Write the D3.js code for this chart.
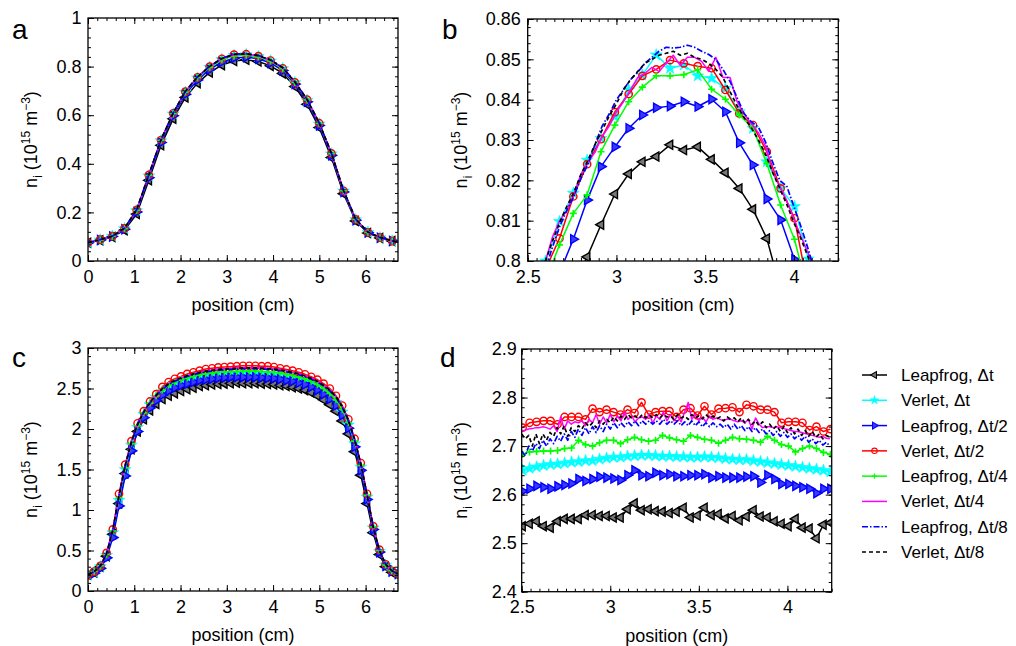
<!DOCTYPE html>
<html><head><meta charset="utf-8">
<script src="https://cdn.jsdelivr.net/npm/d3@7"></script>
<style>
body{margin:0;background:#fff}
svg text{font-family:"Liberation Sans",Arial,Helvetica,sans-serif;fill:#000}
</style>
</head><body><svg id="chart" width="1016" height="646"></svg>
<script>
// ---------- series meta ----------
const seriesNames = ["Leapfrog, \u0394t","Verlet, \u0394t","Leapfrog, \u0394t/2","Verlet, \u0394t/2","Leapfrog, \u0394t/4","Verlet, \u0394t/4","Leapfrog, \u0394t/8","Verlet, \u0394t/8"];
const seriesColors = ["#000000","#00ffff","#0000ff","#ff0000","#00ff00","#ff00ff","#0000ff","#000000"];
const seriesDash = [null,null,null,null,null,null,"6,2,1.5,2","4,3"];
const seriesMarkers = ["triL","star","triR","circle","plus",null,null,null];

// ---------- panel a ----------
const xA = [0,0.263,0.526,0.789,1.052,1.315,1.578,1.841,2.104,2.367,2.63,2.893,3.156,3.419,3.682,3.945,4.208,4.471,4.734,4.997,5.26,5.523,5.786,6.049,6.312,6.575,6.7];
const aLF1 = [0.075,0.085,0.099,0.127,0.193,0.332,0.476,0.585,0.673,0.732,0.776,0.806,0.823,0.828,0.821,0.803,0.772,0.718,0.645,0.549,0.426,0.277,0.165,0.115,0.095,0.082,0.078];
const aV1  = [0.075,0.087,0.102,0.133,0.207,0.350,0.495,0.605,0.694,0.753,0.797,0.829,0.846,0.849,0.841,0.823,0.791,0.734,0.661,0.564,0.441,0.288,0.170,0.118,0.096,0.082,0.078];
const aLF2 = [0.075,0.086,0.101,0.131,0.202,0.343,0.488,0.598,0.686,0.745,0.788,0.819,0.835,0.839,0.832,0.815,0.784,0.728,0.655,0.558,0.435,0.284,0.168,0.117,0.096,0.082,0.078];
const aV2  = [0.075,0.088,0.102,0.134,0.210,0.354,0.498,0.608,0.697,0.756,0.800,0.832,0.849,0.851,0.843,0.825,0.793,0.735,0.664,0.567,0.443,0.289,0.171,0.118,0.096,0.082,0.078];
const aLF4 = [0.075,0.087,0.102,0.134,0.209,0.352,0.497,0.606,0.695,0.754,0.797,0.828,0.844,0.847,0.840,0.823,0.791,0.735,0.663,0.566,0.442,0.289,0.171,0.118,0.096,0.082,0.078];
const aV4  = [0.075,0.088,0.102,0.134,0.210,0.354,0.498,0.608,0.697,0.756,0.800,0.832,0.849,0.852,0.844,0.826,0.794,0.736,0.664,0.567,0.443,0.289,0.171,0.118,0.096,0.082,0.078];
const aLF8 = [0.075,0.088,0.102,0.135,0.211,0.355,0.499,0.609,0.698,0.758,0.802,0.834,0.851,0.853,0.846,0.828,0.796,0.738,0.666,0.568,0.444,0.290,0.172,0.119,0.097,0.083,0.078];
const aV8  = [0.075,0.088,0.102,0.135,0.211,0.355,0.499,0.609,0.698,0.757,0.801,0.833,0.850,0.852,0.845,0.827,0.795,0.737,0.665,0.568,0.444,0.290,0.172,0.119,0.097,0.083,0.078];

// ---------- panel b ----------
const xB = [2.523,2.601,2.679,2.757,2.835,2.913,2.991,3.069,3.146,3.224,3.302,3.380,3.458,3.536,3.614,3.692,3.769,3.847,3.925,4.003,4.081,4.159,4.237];
const bLF1 = [0.765,0.775,0.785,0.794,0.801,0.809,0.8166,0.8216,0.8246,0.8259,0.8288,0.8275,0.8283,0.8252,0.8219,0.8180,0.8128,0.8056,0.793,0.782,0.772,0.760,0.750];
const bV1  = [0.790,0.800,0.8098,0.8168,0.825,0.8304,0.8358,0.8424,0.8461,0.8511,0.8478,0.8486,0.8459,0.8453,0.8428,0.8370,0.8329,0.8246,0.8180,0.8135,0.8005,0.790,0.780];
const bLF2 = [0.780,0.790,0.797,0.8054,0.8151,0.8234,0.8283,0.8329,0.8362,0.8380,0.8384,0.8395,0.8383,0.8401,0.8370,0.8293,0.8238,0.8154,0.8102,0.8004,0.790,0.780,0.770];
const bV2  = [0.788,0.798,0.8056,0.8160,0.824,0.8302,0.8369,0.8414,0.8459,0.8475,0.8498,0.8490,0.8483,0.8478,0.8424,0.8366,0.8337,0.8271,0.8180,0.8106,0.793,0.785,0.775];
const bLF4 = [0.785,0.795,0.804,0.8118,0.8164,0.8271,0.8337,0.8395,0.8431,0.8459,0.8459,0.8462,0.8474,0.8426,0.8401,0.8362,0.8329,0.8242,0.8139,0.8054,0.792,0.780,0.770];
const xBfine = [2.56,2.60,2.64,2.68,2.72,2.76,2.80,2.84,2.88,2.92,2.96,3.00,3.04,3.08,3.12,3.16,3.20,3.24,3.28,3.32,3.36,3.40,3.44,3.48,3.52,3.56,3.60,3.64,3.68,3.72,3.76,3.80,3.84,3.88,3.92,3.96,4.00,4.04,4.08,4.12];
const bV4  = [0.795,0.800,0.806,0.810,0.8125,0.8165,0.8215,0.8245,0.827,0.831,0.8335,0.837,0.8395,0.8425,0.8455,0.8465,0.8480,0.8470,0.8490,0.8510,0.8485,0.8505,0.8505,0.8495,0.8470,0.8505,0.8455,0.8455,0.8395,0.8365,0.8340,0.8318,0.8285,0.8220,0.8185,0.8150,0.8105,0.8060,0.8020,0.797];
const bLF8 = [0.793,0.798,0.8035,0.8085,0.8125,0.816,0.8205,0.824,0.829,0.8335,0.8365,0.840,0.8425,0.845,0.8468,0.849,0.8505,0.852,0.853,0.8528,0.853,0.8535,0.853,0.852,0.8512,0.850,0.8475,0.8445,0.8405,0.8365,0.8345,0.8332,0.8295,0.8245,0.820,0.8185,0.8135,0.8085,0.803,0.797];
const bV8  = [0.795,0.800,0.805,0.8095,0.8135,0.817,0.8215,0.825,0.829,0.8325,0.836,0.839,0.8425,0.845,0.847,0.849,0.850,0.851,0.8515,0.852,0.851,0.8515,0.8505,0.850,0.849,0.8475,0.8455,0.842,0.8385,0.8355,0.833,0.830,0.8265,0.822,0.818,0.814,0.8095,0.8055,0.801,0.796];

// ---------- panel c ----------
const xCstep = 0.134, xCcount = 51;
const cLF1 = [0.20,0.23,0.30,0.43,0.70,1.08,1.45,1.75,1.97,2.12,2.23,2.31,2.37,2.41,2.44,2.47,2.49,2.51,2.53,2.54,2.55,2.555,2.56,2.565,2.57,2.565,2.565,2.565,2.56,2.555,2.55,2.54,2.53,2.515,2.50,2.48,2.45,2.41,2.36,2.30,2.22,2.10,1.94,1.72,1.43,1.08,0.72,0.45,0.30,0.23,0.20];
const cV1  = [0.20,0.23,0.30,0.44,0.72,1.12,1.50,1.80,2.02,2.18,2.30,2.39,2.46,2.51,2.55,2.58,2.60,2.62,2.64,2.65,2.66,2.67,2.675,2.68,2.68,2.68,2.68,2.68,2.675,2.67,2.665,2.655,2.64,2.63,2.61,2.59,2.56,2.52,2.47,2.41,2.33,2.21,2.05,1.82,1.53,1.16,0.78,0.49,0.32,0.24,0.21];
const cLF2 = [0.19,0.22,0.28,0.41,0.66,1.05,1.42,1.73,1.97,2.14,2.26,2.35,2.42,2.47,2.51,2.54,2.56,2.58,2.60,2.61,2.62,2.63,2.635,2.64,2.64,2.64,2.64,2.64,2.635,2.63,2.625,2.615,2.60,2.59,2.57,2.55,2.52,2.48,2.43,2.37,2.29,2.17,2.01,1.78,1.49,1.13,0.76,0.48,0.31,0.24,0.21];
const cV2  = [0.20,0.24,0.31,0.47,0.76,1.20,1.56,1.85,2.07,2.22,2.34,2.43,2.52,2.58,2.62,2.65,2.68,2.70,2.72,2.74,2.75,2.76,2.765,2.77,2.775,2.78,2.78,2.78,2.775,2.775,2.765,2.75,2.735,2.72,2.70,2.675,2.645,2.61,2.56,2.50,2.41,2.29,2.12,1.88,1.58,1.20,0.80,0.51,0.33,0.25,0.21];
const cLF4 = [0.20,0.24,0.31,0.45,0.74,1.15,1.52,1.82,2.04,2.20,2.32,2.41,2.48,2.54,2.58,2.61,2.63,2.65,2.67,2.68,2.69,2.70,2.705,2.71,2.71,2.715,2.715,2.715,2.71,2.705,2.70,2.69,2.675,2.66,2.64,2.62,2.59,2.55,2.50,2.44,2.36,2.24,2.08,1.85,1.55,1.18,0.79,0.50,0.32,0.25,0.21];
const cV4  = [0.20,0.24,0.31,0.46,0.75,1.18,1.55,1.84,2.06,2.21,2.33,2.42,2.50,2.56,2.60,2.63,2.66,2.68,2.70,2.72,2.73,2.74,2.745,2.75,2.755,2.76,2.755,2.76,2.755,2.75,2.745,2.735,2.72,2.70,2.685,2.66,2.63,2.595,2.545,2.485,2.40,2.28,2.11,1.87,1.57,1.19,0.79,0.50,0.33,0.25,0.21];
const cLF8 = [0.20,0.24,0.31,0.46,0.75,1.17,1.54,1.83,2.05,2.21,2.32,2.41,2.49,2.55,2.59,2.62,2.65,2.67,2.69,2.705,2.715,2.725,2.73,2.735,2.74,2.745,2.745,2.745,2.74,2.735,2.73,2.72,2.705,2.69,2.67,2.645,2.615,2.58,2.53,2.47,2.39,2.27,2.10,1.86,1.56,1.19,0.79,0.50,0.33,0.25,0.21];
const cV8  = [0.20,0.24,0.31,0.46,0.75,1.18,1.55,1.84,2.06,2.21,2.33,2.42,2.50,2.56,2.60,2.63,2.66,2.68,2.70,2.715,2.725,2.735,2.74,2.745,2.75,2.755,2.755,2.755,2.75,2.745,2.74,2.73,2.715,2.70,2.68,2.655,2.625,2.59,2.54,2.48,2.40,2.28,2.11,1.87,1.57,1.19,0.79,0.50,0.33,0.25,0.21];

// ---------- panel d ----------
const xDstart = 2.505, xDstep = 0.0395, xDcount = 45;
const dLF1 = [2.535,2.540,2.545,2.535,2.532,2.545,2.550,2.550,2.550,2.558,2.558,2.556,2.556,2.553,2.553,2.570,2.582,2.568,2.570,2.566,2.565,2.562,2.565,2.573,2.553,2.557,2.573,2.558,2.560,2.551,2.556,2.547,2.555,2.568,2.555,2.553,2.545,2.540,2.535,2.550,2.532,2.530,2.510,2.538,2.542];
const dLF2 = [2.607,2.612,2.618,2.615,2.612,2.617,2.620,2.623,2.632,2.628,2.632,2.637,2.635,2.633,2.630,2.640,2.650,2.640,2.638,2.645,2.640,2.642,2.638,2.638,2.640,2.640,2.642,2.635,2.638,2.635,2.635,2.635,2.637,2.638,2.625,2.640,2.632,2.622,2.622,2.618,2.615,2.612,2.603,2.612,2.612];
const dV1  = [2.650,2.654,2.657,2.660,2.662,2.663,2.665,2.667,2.668,2.670,2.670,2.673,2.675,2.677,2.677,2.679,2.680,2.681,2.681,2.680,2.679,2.679,2.678,2.678,2.677,2.677,2.678,2.677,2.676,2.674,2.673,2.672,2.672,2.670,2.668,2.666,2.664,2.662,2.660,2.658,2.656,2.654,2.652,2.650,2.647];
const dLF4 = [2.683,2.688,2.689,2.690,2.690,2.691,2.695,2.696,2.712,2.703,2.700,2.707,2.712,2.712,2.705,2.713,2.718,2.713,2.710,2.712,2.722,2.717,2.713,2.710,2.722,2.718,2.714,2.712,2.706,2.712,2.718,2.715,2.714,2.712,2.708,2.720,2.712,2.703,2.700,2.688,2.695,2.700,2.695,2.687,2.683];
const dV2  = [2.738,2.748,2.750,2.752,2.752,2.745,2.760,2.760,2.760,2.755,2.777,2.770,2.775,2.770,2.765,2.775,2.768,2.790,2.765,2.770,2.772,2.772,2.760,2.775,2.778,2.763,2.782,2.765,2.777,2.778,2.780,2.770,2.785,2.782,2.775,2.775,2.770,2.748,2.750,2.750,2.748,2.733,2.740,2.730,2.735];
const xDfineStart = 2.50, xDfineStep = 0.02, xDfineCount = 88;
const dV4  = [2.730,2.733,2.735,2.736,2.738,2.738,2.740,2.738,2.735,2.742,2.730,2.760,2.735,2.752,2.745,2.750,2.748,2.752,2.742,2.755,2.748,2.765,2.745,2.760,2.748,2.765,2.750,2.762,2.752,2.770,2.755,2.762,2.750,2.758,2.760,2.755,2.765,2.748,2.762,2.755,2.770,2.752,2.765,2.752,2.762,2.750,2.770,2.790,2.755,2.765,2.752,2.760,2.750,2.762,2.755,2.758,2.755,2.752,2.756,2.755,2.752,2.750,2.752,2.748,2.755,2.735,2.758,2.745,2.738,2.740,2.740,2.738,2.740,2.738,2.736,2.734,2.732,2.730,2.730,2.728,2.726,2.724,2.722,2.720,2.718,2.720,2.716,2.715];
const dLF8 = [2.690,2.680,2.700,2.690,2.705,2.695,2.712,2.700,2.715,2.705,2.720,2.710,2.725,2.712,2.730,2.718,2.735,2.722,2.738,2.725,2.740,2.728,2.742,2.730,2.745,2.735,2.748,2.738,2.748,2.740,2.750,2.742,2.752,2.742,2.752,2.745,2.752,2.745,2.752,2.745,2.755,2.745,2.752,2.745,2.752,2.742,2.750,2.742,2.752,2.742,2.750,2.740,2.748,2.740,2.748,2.740,2.745,2.738,2.745,2.735,2.745,2.735,2.742,2.732,2.740,2.730,2.738,2.728,2.735,2.725,2.732,2.722,2.730,2.720,2.728,2.718,2.725,2.715,2.722,2.712,2.720,2.708,2.715,2.705,2.712,2.702,2.708,2.700];
const dV8  = [2.725,2.715,2.722,2.700,2.725,2.705,2.725,2.712,2.728,2.720,2.738,2.725,2.742,2.720,2.738,2.730,2.742,2.735,2.748,2.740,2.748,2.738,2.752,2.745,2.755,2.748,2.760,2.752,2.762,2.755,2.765,2.758,2.762,2.756,2.765,2.758,2.764,2.758,2.765,2.758,2.765,2.760,2.762,2.755,2.765,2.758,2.762,2.755,2.765,2.758,2.762,2.756,2.765,2.758,2.762,2.756,2.760,2.752,2.760,2.755,2.758,2.750,2.758,2.748,2.755,2.745,2.752,2.742,2.750,2.738,2.745,2.735,2.742,2.730,2.740,2.728,2.738,2.725,2.735,2.722,2.732,2.720,2.730,2.718,2.725,2.715,2.722,2.718];

// ---------- tick settings ----------
const aXTicks = [0,1,2,3,4,5,6], aYTicks = [0,0.2,0.4,0.6,0.8,1];
const bXTicks = [2.5,3,3.5,4], bYTicks = [0.8,0.81,0.82,0.83,0.84,0.85,0.86];
const cXTicks = [0,1,2,3,4,5,6], cYTicks = [0,0.5,1,1.5,2,2.5,3];
const dXTicks = [2.5,3,3.5,4], dYTicks = [2.4,2.5,2.6,2.7,2.8,2.9];

// ---------- build ----------
const xC = d3.range(xCcount).map(i => +(i * xCstep).toFixed(4));
const xD = d3.range(xDcount).map(i => +(xDstart + i * xDstep).toFixed(4));
const xDfine = d3.range(xDfineCount).map(i => +(xDfineStart + i * xDfineStep).toFixed(4));
const zip = (xs, ys) => ys.map((v, i) => [xs[i], v]);

const panels = [
  {label:"a", lx:12, ly:39, left:88, right:398, top:18, bottom:261, xd:[0,6.7], yd:[0,1],
   xt:aXTicks, yt:aYTicks, xMinor:0.2, yMinor:0.04, pad:6.5, titleX:36.7, markN:26,
   series:[zip(xA,aLF1),zip(xA,aV1),zip(xA,aLF2),zip(xA,aV2),zip(xA,aLF4),zip(xA,aV4),zip(xA,aLF8),zip(xA,aV8)]},
  {label:"b", lx:442, ly:39, left:527.7, right:838.3, top:19, bottom:261, xd:[2.5,4.25], yd:[0.8,0.86],
   xt:bXTicks, yt:bYTicks, xMinor:0.05, yMinor:0.002, pad:7, titleX:466.7, markN:999,
   series:[zip(xB,bLF1),zip(xB,bV1),zip(xB,bLF2),zip(xB,bV2),zip(xB,bLF4),zip(xBfine,bV4),zip(xBfine,bLF8),zip(xBfine,bV8)]},
  {label:"c", lx:12, ly:367, left:88, right:398, top:348, bottom:591, xd:[0,6.7], yd:[0,3],
   xt:cXTicks, yt:cYTicks, xMinor:0.2, yMinor:0.1, pad:6.5, titleX:36.7, markN:999,
   series:[zip(xC,cLF1),zip(xC,cV1),zip(xC,cLF2),zip(xC,cV2),zip(xC,cLF4),zip(xC,cV4),zip(xC,cLF8),zip(xC,cV8)]},
  {label:"d", lx:440, ly:367, left:521.7, right:831.7, top:349, bottom:591.7, xd:[2.5,4.25], yd:[2.4,2.9],
   xt:dXTicks, yt:dYTicks, xMinor:0.05, yMinor:0.02, pad:5, titleX:466.7, markN:999,
   series:[zip(xD,dLF1),zip(xD,dV1),zip(xD,dLF2),zip(xD,dV2),zip(xD,dLF4),zip(xDfine,dV4),zip(xDfine,dLF8),zip(xDfine,dV8)]}
];

const svg = d3.select("#chart");
const FONT = "18px";

function minorTicks(dom, step) {
  const k0 = Math.ceil(dom[0] / step - 1e-9), k1 = Math.floor(dom[1] / step + 1e-9);
  return d3.range(k0, k1 + 1).map(k => +(k * step).toFixed(6));
}

function markerPath(type) {
  if (type === "triL" || type === "triR") return d3.symbol(d3.symbolTriangle, 36)();
  if (type === "star") return d3.symbol(d3.symbolStar, 44)();
  if (type === "circle") return d3.symbol(d3.symbolCircle, 42)();
  if (type === "plus") return "M-3.5,0H3.5M0,-3.5V3.5";
  return null;
}
function markerRotate(type) { return type === "triL" ? -90 : (type === "triR" ? 90 : 0); }
function styleMarker(sel, type, color) {
  if (type === "star") sel.attr("fill", color).attr("stroke", color).attr("stroke-width", 0.6);
  else if (type === "triL") sel.attr("fill", "#777").attr("stroke", color).attr("stroke-width", 1.4);
  else if (type === "triR") sel.attr("fill", "#3a3aff").attr("stroke", color).attr("stroke-width", 1.4);
  else if (type === "plus") sel.attr("fill", "none").attr("stroke", color).attr("stroke-width", 1.6);
  else sel.attr("fill", "none").attr("stroke", color).attr("stroke-width", 1.4);
}

panels.forEach((p, pi) => {
  const g = svg.append("g");
  const x = d3.scaleLinear().domain(p.xd).range([p.left, p.right]);
  const y = d3.scaleLinear().domain(p.yd).range([p.bottom, p.top]);
  const fmt = d3.format("~g");

  const clipId = "clip" + pi;
  svg.append("clipPath").attr("id", clipId).append("rect")
    .attr("x", p.left).attr("y", p.top).attr("width", p.right - p.left).attr("height", p.bottom - p.top);

  const plot = g.append("g").attr("clip-path", `url(#${clipId})`);
  const line = d3.line().x(d => x(d[0])).y(d => y(d[1]));

  p.series.forEach((data, si) => {
    const col = seriesColors[si];
    const path = plot.append("path").datum(data).attr("d", line)
      .attr("fill", "none").attr("stroke", col).attr("stroke-width", seriesDash[si] ? 1.7 : 1.5)
      .attr("stroke-linejoin", "round");
    if (seriesDash[si]) path.attr("stroke-dasharray", seriesDash[si]);
    const mt = seriesMarkers[si];
    if (mt) {
      const mp = markerPath(mt), rot = markerRotate(mt);
      const ms = plot.append("g").selectAll("path").data(data.slice(0, p.markN)).join("path")
        .attr("d", mp)
        .attr("transform", d => `translate(${x(d[0])},${y(d[1])}) rotate(${rot})`);
      styleMarker(ms, mt, col);
    }
  });

  // axes (ticks inside on all four sides)
  const ax = [];
  ax.push(g.append("g").attr("transform", `translate(0,${p.bottom})`)
    .call(d3.axisBottom(x).tickValues(minorTicks(p.xd, p.xMinor)).tickSize(-3).tickFormat("")));
  ax.push(g.append("g").attr("transform", `translate(0,${p.top})`)
    .call(d3.axisTop(x).tickValues(minorTicks(p.xd, p.xMinor)).tickSize(-3).tickFormat("")));
  ax.push(g.append("g").attr("transform", `translate(${p.left},0)`)
    .call(d3.axisLeft(y).tickValues(minorTicks(p.yd, p.yMinor)).tickSize(-3).tickFormat("")));
  ax.push(g.append("g").attr("transform", `translate(${p.right},0)`)
    .call(d3.axisRight(y).tickValues(minorTicks(p.yd, p.yMinor)).tickSize(-3).tickFormat("")));
  ax.push(g.append("g").attr("transform", `translate(0,${p.bottom})`)
    .call(d3.axisBottom(x).tickValues(p.xt).tickSize(-6).tickPadding(9).tickFormat(fmt)));
  ax.push(g.append("g").attr("transform", `translate(0,${p.top})`)
    .call(d3.axisTop(x).tickValues(p.xt).tickSize(-6).tickFormat("")));
  ax.push(g.append("g").attr("transform", `translate(${p.left},0)`)
    .call(d3.axisLeft(y).tickValues(p.yt).tickSize(-6).tickPadding(p.pad).tickFormat(fmt)));
  ax.push(g.append("g").attr("transform", `translate(${p.right},0)`)
    .call(d3.axisRight(y).tickValues(p.yt).tickSize(-6).tickFormat("")));
  ax.forEach(a => {
    a.select(".domain").remove();
    a.selectAll("line").attr("stroke", "#000").attr("stroke-width", 1);
    a.selectAll("text").style("font-size", FONT).attr("fill", "#000")
      .style("font-family", '"Liberation Sans",Arial,Helvetica,sans-serif');
  });

  g.append("rect").attr("x", p.left).attr("y", p.top)
    .attr("width", p.right - p.left).attr("height", p.bottom - p.top)
    .attr("fill", "none").attr("stroke", "#000").attr("stroke-width", 1.3);

  // x title
  g.append("text").attr("x", (p.left + p.right) / 2).attr("y", p.bottom + 50)
    .attr("text-anchor", "middle").style("font-size", FONT).text("position (cm)");

  // y title
  const cy = (p.top + p.bottom) / 2;
  const t = g.append("text").attr("transform", `translate(${p.titleX},${cy}) rotate(-90)`)
    .attr("text-anchor", "middle").style("font-size", FONT);
  t.append("tspan").text("n");
  t.append("tspan").attr("dy", 5).style("font-size", "12px").text("i");
  t.append("tspan").attr("dy", -5).text(" (10");
  t.append("tspan").attr("dy", -7).style("font-size", "12px").text("15");
  t.append("tspan").attr("dy", 7).text(" m");
  t.append("tspan").attr("dy", -7).style("font-size", "12px").text("\u22123");
  t.append("tspan").attr("dy", 7).text(")");

  // panel label
  g.append("text").attr("x", p.lx).attr("y", p.ly).style("font-size", "28px").text(p.label);
});

// ---------- legend ----------
const legendRows = d3.range(seriesNames.length);
const legY = d3.scaleLinear().domain([0, 7]).range([375, 552]);
const leg = svg.append("g");
legendRows.forEach(i => {
  const yy = legY(i), col = seriesColors[i];
  const ln = leg.append("line").attr("x1", 862).attr("x2", 887).attr("y1", yy).attr("y2", yy)
    .attr("stroke", col).attr("stroke-width", 1.5);
  if (seriesDash[i]) ln.attr("stroke-dasharray", seriesDash[i]);
  const mt = seriesMarkers[i];
  if (mt) {
    const m = leg.append("path").attr("d", markerPath(mt))
      .attr("transform", `translate(874.5,${yy}) rotate(${markerRotate(mt)}) scale(0.75)`);
    styleMarker(m, mt, col);
  }
  leg.append("text").attr("x", 901).attr("y", yy).attr("dy", "0.35em")
    .style("font-size", "17px").text(seriesNames[i]);
});
</script>
</body></html>
